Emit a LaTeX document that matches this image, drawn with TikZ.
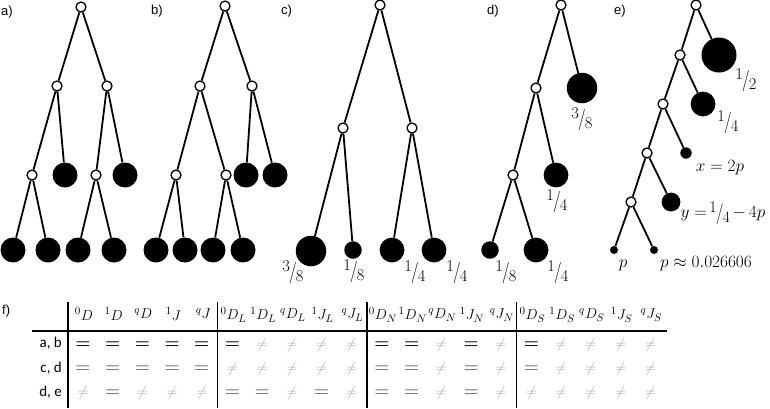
\documentclass[tikz,border=0pt]{standalone}
\usepackage{fontspec}
\usepackage{graphicx}
\newfontfamily\labfont{Liberation Sans}
\newfontfamily\rowfont{Carlito}
\definecolor{eqgray}{HTML}{6E6E6E}
\definecolor{negray}{HTML}{A8A8A8}
\newcommand\skf[2]{\raisebox{0.32em}{#1}\kern-0.05em\raisebox{-0.12em}{\scalebox{1}[1.3]{/}}\kern-0.05em\raisebox{-0.3em}{#2}}
\newcommand\symE{{\fontsize{17}{17}\selectfont\boldmath$=$}}
\newcommand\symG{\textcolor{eqgray}{\fontsize{17}{17}\selectfont\boldmath$=$}}
\newcommand\symN{\textcolor{negray}{\fontsize{14}{14}\selectfont$\neq$}}
\begin{document}
\begin{tikzpicture}[x=1pt,y=-1pt,
  edge/.style={line width=1.8pt},
  inner/.style={circle,draw,fill=white,line width=1.3pt,minimum size=10pt,inner sep=0pt},
  leaf/.style={circle,fill=black,inner sep=0pt},
  panel/.style={font={\labfont\fontsize{13}{15}\selectfont},anchor=west,inner sep=0pt},
  wlab/.style={font={\fontsize{16.5}{19}\selectfont},inner sep=0pt},
  mlab/.style={font={\fontsize{16}{18}\selectfont},inner sep=0pt},
  rowlab/.style={font={\rowfont\fontsize{15}{17}\selectfont},anchor=base east,inner sep=0pt},
  head/.style={font={\fontsize{15}{17}\selectfont},inner sep=0pt},
  tline/.style={line width=1.5pt}]
\useasboundingbox (0,0) rectangle (770,408);

% panel labels
\node[panel] (la) at (1,12) {a)};
\node[panel] (lb) at (151,11) {b)};
\node[panel] (lc) at (281,11) {c)};
\node[panel] (ld) at (487,11) {d)};
\node[panel] (le) at (614,11) {e)};
\node[panel] (lf) at (2,311) {f)};

% ---------- tree a
\node[leaf,minimum size=25pt] (aL1) at (65,175) {};
\node[leaf,minimum size=25pt] (aL2) at (125,175) {};
\node[leaf,minimum size=25pt] (aB1) at (13,250) {};
\node[leaf,minimum size=25pt] (aB2) at (48,250) {};
\node[leaf,minimum size=25pt] (aB3) at (78,250) {};
\node[leaf,minimum size=25pt] (aB4) at (114,250) {};
\node[inner] (ar) at (81,7) {};
\node[inner] (a1) at (57,86) {};
\node[inner] (a2) at (107,86) {};
\node[inner] (a11) at (32,175) {};
\node[inner] (a21) at (96,175) {};
\draw[edge] (ar)--(a1) (ar)--(a2) (a1)--(a11) (a1)--(aL1) (a2)--(a21) (a2)--(aL2)
  (a11)--(aB1) (a11)--(aB2) (a21)--(aB3) (a21)--(aB4);

% ---------- tree b
\node[leaf,minimum size=25pt] (bL1) at (246,175) {};
\node[leaf,minimum size=25pt] (bL2) at (275,175) {};
\node[leaf,minimum size=25pt] (bB1) at (156,250) {};
\node[leaf,minimum size=25pt] (bB2) at (185,250) {};
\node[leaf,minimum size=25pt] (bB3) at (213,250) {};
\node[leaf,minimum size=25pt] (bB4) at (243,250) {};
\node[inner] (br) at (225,6) {};
\node[inner] (b1) at (200,86) {};
\node[inner] (b2) at (252,86) {};
\node[inner] (b11) at (176,175) {};
\node[inner] (b12) at (226,175) {};
\draw[edge] (br)--(b1) (br)--(b2) (b1)--(b11) (b1)--(b12) (b2)--(bL1) (b2)--(bL2)
  (b11)--(bB1) (b11)--(bB2) (b12)--(bB3) (b12)--(bB4);

% ---------- tree c
\node[leaf,minimum size=30.5pt] (cB1) at (311,251) {};
\node[leaf,minimum size=17.5pt] (cB2) at (353,250) {};
\node[leaf,minimum size=24.8pt] (cB3) at (392,250) {};
\node[leaf,minimum size=24.8pt] (cB4) at (434,250) {};
\node[inner] (cr) at (380,5) {};
\node[inner] (c1) at (343,128) {};
\node[inner] (c2) at (412,128) {};
\draw[edge] (cr)--(c1) (cr)--(c2) (c1)--(cB1) (c1)--(cB2) (c2)--(cB3) (c2)--(cB4);
\node[wlab] (tc1) at (293,272) {\skf{3}{8}};
\node[wlab] (tc2) at (354,271) {\skf{1}{8}};
\node[wlab] (tc3) at (415,272) {\skf{1}{4}};
\node[wlab] (tc4) at (457,272) {\skf{1}{4}};

% ---------- tree d
\node[leaf,minimum size=30.5pt] (dL1) at (582,88) {};
\node[leaf,minimum size=24.8pt] (dL2) at (556,175) {};
\node[leaf,minimum size=17.5pt] (dB1) at (490,250) {};
\node[leaf,minimum size=24.8pt] (dB2) at (536,250) {};
\node[inner] (dr) at (561,5) {};
\node[inner] (d1) at (536,88) {};
\node[inner] (d11) at (513,175) {};
\draw[edge] (dr)--(d1) (dr)--(dL1) (d1)--(d11) (d1)--(dL2) (d11)--(dB1) (d11)--(dB2);
\node[wlab] (td1) at (582,119) {\skf{3}{8}};
\node[wlab] (td2) at (557,201) {\skf{1}{4}};
\node[wlab] (td3) at (506,272) {\skf{1}{8}};
\node[wlab] (td4) at (558,272) {\skf{1}{4}};

% ---------- tree e
\node[leaf,minimum size=35pt] (eL1) at (719,55) {};
\node[leaf,minimum size=24.8pt] (eL2) at (703,104) {};
\node[leaf,minimum size=11.4pt] (eL3) at (686,153) {};
\node[leaf,minimum size=18.8pt] (eL4) at (671,202) {};
\node[leaf,minimum size=8pt] (eB1) at (614,250) {};
\node[leaf,minimum size=8pt] (eB2) at (654,250) {};
\node[inner] (er) at (696,5) {};
\node[inner] (e1) at (680,55) {};
\node[inner] (e2) at (663,104) {};
\node[inner] (e3) at (647,153) {};
\node[inner] (e4) at (631,202) {};
\draw[edge] (er)--(e1) (er)--(eL1) (e1)--(e2) (e1)--(eL2) (e2)--(e3) (e2)--(eL3)
  (e3)--(e4) (e3)--(eL4) (e4)--(eB1) (e4)--(eB2);
\node[wlab] (te1) at (746,80) {\skf{1}{2}};
\node[wlab] (te2) at (728,122) {\skf{1}{4}};
\node[mlab] (te3) at (720,168) {$x=2p$};
\node[mlab] (te4) at (723,213) {$y=$\,\skf{1}{4}\,$-\,4p$};
\node[mlab] (te5) at (623,265) {$p$};
\node[mlab] (te6) at (706,264) {$p\approx 0.026606$};

% ---------- table f
\coordinate (hL) at (32,331);
\coordinate (hR) at (667,331);
\draw[tline] (hL)--(hR);
\foreach \xv [count=\k] in {68,217.5,367,516.5} {
  \coordinate (vt\k) at (\xv,302);
  \coordinate (vb\k) at (\xv,408);
  \draw[tline] (vt\k)--(vb\k);
}
\foreach \gi/\sub in {0/{},1/L,2/N,3/S} {
  \foreach \hs/\hl [count=\k from 0] in {0/D,1/D,q/D,1/J,q/J} {
    \pgfmathsetmacro\xx{84+149.5*\gi+29.7*\k}
    \node[head] (h\gi\k) at (\xx,315) {$^{\hs}\hl_{\sub}$};
  }
}
\node[rowlab] (r1) at (62,347) {a, b};
\node[rowlab] (r2) at (62,372) {c, d};
\node[rowlab] (r3) at (62,396) {d, e};
\foreach \rr/\yy/\cells in {1/345/{E,E,E,E,E,E,N,N,N,N,E,E,N,E,N,E,N,N,N,N},
                            2/369/{G,G,G,G,G,N,N,N,N,N,G,G,N,G,N,G,N,N,N,N},
                            3/393/{N,G,N,N,N,G,G,N,G,N,G,G,N,G,N,N,N,N,N,N}} {
  \foreach \s [count=\i from 0] in \cells {
    \pgfmathsetmacro\xx{83+149.5*int(\i/5)+29.7*mod(\i,5)}
    \node[inner sep=0pt] (c\rr-\i) at (\xx,\yy) {\csname sym\s\endcsname};
  }
}
\end{tikzpicture}
\end{document}
